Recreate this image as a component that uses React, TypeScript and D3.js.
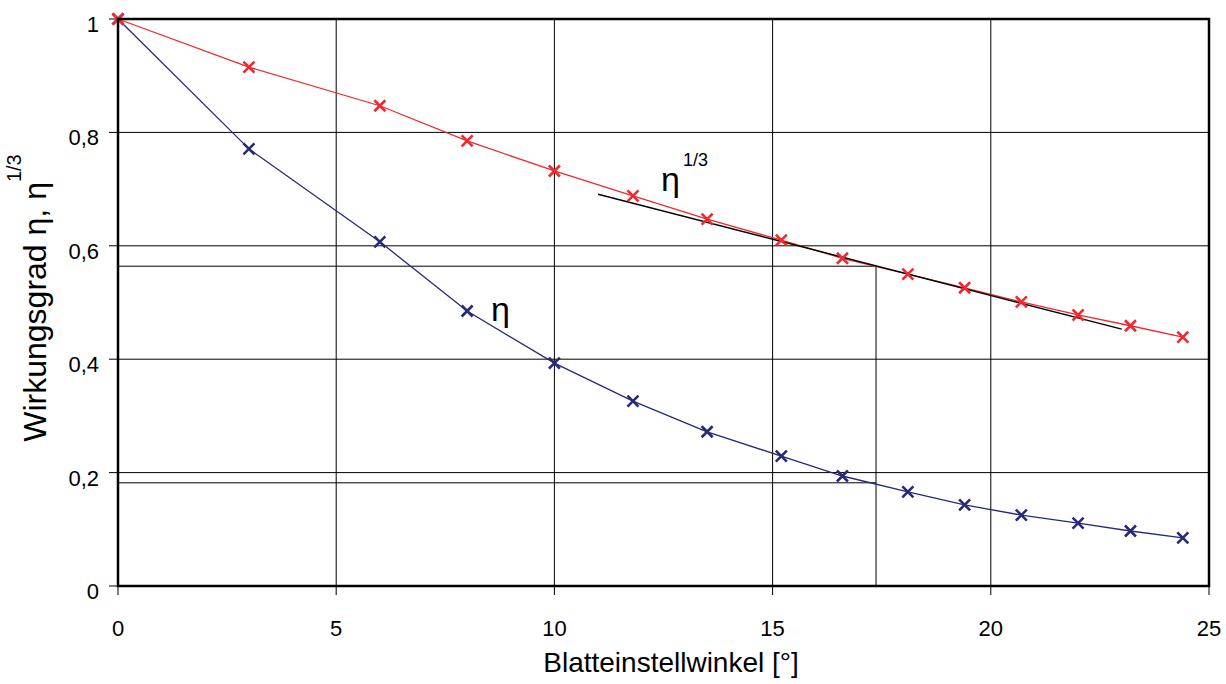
import React from "react";
import * as d3 from "d3";

const angles = [0, 3, 6, 8, 10, 11.8, 13.5, 15.2, 16.6, 18.1, 19.4, 20.7, 22, 23.2, 24.4];
const eta = [1, 0.771, 0.607, 0.485, 0.393, 0.326, 0.272, 0.229, 0.194, 0.166, 0.143, 0.125, 0.111, 0.097, 0.085];
const etaCubeRoot = [1, 0.915, 0.847, 0.785, 0.732, 0.688, 0.647, 0.61, 0.578, 0.55, 0.526, 0.501, 0.478, 0.459, 0.439];
const xTicks = [0, 5, 10, 15, 20, 25];
const yTicks = [0, 0.2, 0.4, 0.6, 0.8, 1];
const tangentLine = [
  [11, 0.691],
  [23, 0.453],
];
const designAngle = 17.37;
const designCubeRoot = 0.564;
const designEta = 0.182;

const W = 1226;
const H = 684;
const left = 118;
const right = 1209;
const top = 19;
const bottom = 586;
const font = "'Liberation Sans', Arial, sans-serif";
const RED = "#ee2a2e";
const BLUE = "#262a78";

export default function App() {
  const x = d3.scaleLinear().domain([0, 25]).range([left, right]);
  const y = d3.scaleLinear().domain([0, 1]).range([bottom, top]);
  const line = d3
    .line<[number, number]>()
    .x((d) => x(d[0]))
    .y((d) => y(d[1]));
  const redPts = angles.map((a, i) => [a, etaCubeRoot[i]] as [number, number]);
  const bluePts = angles.map((a, i) => [a, eta[i]] as [number, number]);
  const fmt = (v: number) => (v === 0 || v === 1 ? String(v) : v.toFixed(1).replace(".", ","));
  const cross = (cx: number, cy: number, color: string, key: string) => (
    <path
      key={key}
      d={`M${cx - 5.5},${cy - 5.5}L${cx + 5.5},${cy + 5.5}M${cx - 5.5},${cy + 5.5}L${cx + 5.5},${cy - 5.5}`}
      stroke={color}
      strokeWidth={2.6}
      fill="none"
    />
  );
  return (
    <svg
      width={W}
      height={H}
      style={{ position: "absolute", left: 0, top: 0, background: "#fff" }}
      fontFamily={font}
    >
      {/* grid */}
      {xTicks.slice(1, -1).map((t) => (
        <line key={"gx" + t} x1={x(t)} x2={x(t)} y1={top} y2={bottom} stroke="#000" strokeWidth={1} />
      ))}
      {yTicks.slice(1, -1).map((t) => (
        <line key={"gy" + t} x1={left} x2={right} y1={y(t)} y2={y(t)} stroke="#000" strokeWidth={1} />
      ))}
      {/* design point guides */}
      <line x1={left} x2={x(designAngle)} y1={y(designCubeRoot)} y2={y(designCubeRoot)} stroke="#000" strokeWidth={1} />
      <line x1={left} x2={x(designAngle)} y1={y(designEta)} y2={y(designEta)} stroke="#000" strokeWidth={1} />
      <line x1={x(designAngle)} x2={x(designAngle)} y1={y(designCubeRoot)} y2={bottom} stroke="#000" strokeWidth={1} />
      {/* ticks */}
      {xTicks.map((t) => (
        <g key={"xt" + t}>
          <line x1={x(t)} x2={x(t)} y1={bottom} y2={bottom + 9} stroke="#000" strokeWidth={1} />
          <text x={x(t)} y={636} textAnchor="middle" fontSize={22}>
            {t}
          </text>
        </g>
      ))}
      {yTicks.map((t) => (
        <g key={"yt" + t}>
          <line x1={left - 9} x2={left} y1={y(t)} y2={y(t)} stroke="#000" strokeWidth={1} />
          <text x={99} y={y(t) + 13} textAnchor="end" fontSize={22}>
            {fmt(t)}
          </text>
        </g>
      ))}
      {/* series */}
      <path d={line(bluePts) || ""} fill="none" stroke={BLUE} strokeWidth={1.3} />
      <path d={line(redPts) || ""} fill="none" stroke={RED} strokeWidth={1.3} />
      <path
        d={d3.line()(tangentLine.map((p) => [x(p[0]), y(p[1])] as [number, number])) || ""}
        fill="none"
        stroke="#000"
        strokeWidth={1.4}
      />
      {bluePts.map((p, i) => cross(x(p[0]), y(p[1]), BLUE, "b" + i))}
      {redPts.map((p, i) => cross(x(p[0]), y(p[1]), RED, "r" + i))}
      {/* frame */}
      <rect x={left} y={top} width={right - left} height={bottom - top} fill="none" stroke="#000" strokeWidth={2.5} />
      {/* annotations */}
      <text x={661} y={191} fontSize={34}>
        η
      </text>
      <text x={683} y={166} fontSize={18}>
        1/3
      </text>
      <text x={491} y={321} fontSize={34}>
        η
      </text>
      {/* axis titles */}
      <text x={671} y={672} textAnchor="middle" fontSize={28}>
        Blatteinstellwinkel [°]
      </text>
      <g transform="translate(46,298) rotate(-90)">
        <text x={0} y={0} textAnchor="middle" fontSize={32}>
          Wirkungsgrad η, η
          <tspan dy={-25} fontSize={20}>
            1/3
          </tspan>
        </text>
      </g>
    </svg>
  );
}
